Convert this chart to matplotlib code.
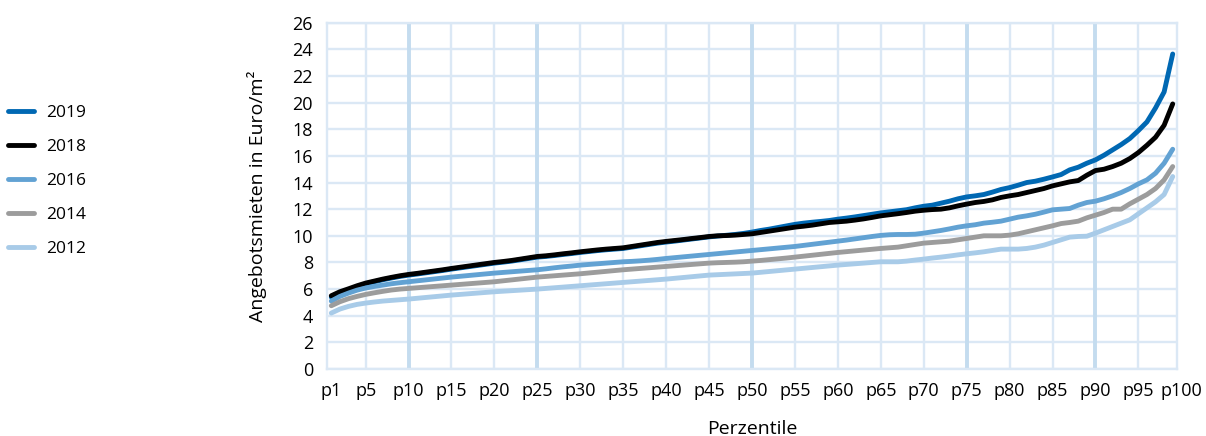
import matplotlib
matplotlib.use("Agg")
import matplotlib.pyplot as plt
from matplotlib.lines import Line2D

plt.rcParams['font.family'] = ['Open Sans', 'DejaVu Sans']

# Percentiles p1 .. p99 of asking rents (Euro/m²)
percentiles = list(range(1, 100))

rent_2019 = [
    5.40, 5.72, 5.95, 6.18, 6.40, 6.55, 6.70, 6.83, 6.95, 7.05,
    7.13, 7.22, 7.31, 7.40, 7.50, 7.59, 7.68, 7.77, 7.86, 7.95,
    8.02, 8.10, 8.20, 8.30, 8.40, 8.45, 8.52, 8.60, 8.67, 8.75,
    8.82, 8.89, 8.95, 9.00, 9.05, 9.15, 9.25, 9.35, 9.45, 9.53,
    9.60, 9.68, 9.76, 9.84, 9.92, 9.98, 10.04, 10.10, 10.18, 10.28,
    10.40, 10.50, 10.62, 10.74, 10.86, 10.95, 11.02, 11.08, 11.15, 11.25,
    11.33, 11.42, 11.52, 11.62, 11.72, 11.80, 11.88, 11.96, 12.10, 12.22,
    12.30, 12.45, 12.60, 12.78, 12.92, 13.00, 13.10, 13.28, 13.48, 13.62,
    13.80, 14.00, 14.10, 14.25, 14.42, 14.60, 14.95, 15.15, 15.45, 15.70,
    16.05, 16.45, 16.85, 17.30, 17.90, 18.55, 19.60, 20.80, 23.65,
]

rent_2018 = [
    5.50, 5.80, 6.02, 6.25, 6.45, 6.60, 6.75, 6.88, 7.00, 7.10,
    7.18, 7.27, 7.36, 7.45, 7.55, 7.64, 7.73, 7.82, 7.91, 8.00,
    8.07, 8.15, 8.25, 8.35, 8.45, 8.50, 8.57, 8.65, 8.72, 8.80,
    8.87, 8.94, 9.00, 9.05, 9.10, 9.20, 9.30, 9.40, 9.50, 9.58,
    9.65, 9.72, 9.80, 9.87, 9.95, 10.00, 10.02, 10.05, 10.10, 10.15,
    10.25, 10.35, 10.45, 10.55, 10.65, 10.72, 10.80, 10.90, 11.00, 11.05,
    11.10, 11.18, 11.27, 11.38, 11.50, 11.58, 11.66, 11.75, 11.85, 11.92,
    11.97, 12.00, 12.10, 12.25, 12.38, 12.50, 12.58, 12.70, 12.88, 13.00,
    13.10, 13.25, 13.40, 13.55, 13.75, 13.90, 14.05, 14.15, 14.55, 14.90,
    15.00, 15.20, 15.45, 15.80, 16.25, 16.80, 17.40, 18.30, 19.90,
]

rent_2016 = [
    5.10, 5.45, 5.70, 5.92, 6.08, 6.20, 6.30, 6.40, 6.48, 6.55,
    6.62, 6.69, 6.76, 6.83, 6.90, 6.96, 7.02, 7.08, 7.14, 7.20,
    7.25, 7.30, 7.35, 7.40, 7.45, 7.52, 7.60, 7.67, 7.73, 7.80,
    7.85, 7.90, 7.95, 8.00, 8.05, 8.08, 8.12, 8.17, 8.23, 8.30,
    8.36, 8.42, 8.48, 8.54, 8.60, 8.66, 8.72, 8.78, 8.84, 8.90,
    8.96, 9.02, 9.08, 9.14, 9.20, 9.28, 9.36, 9.44, 9.52, 9.60,
    9.68, 9.77, 9.86, 9.95, 10.03, 10.08, 10.10, 10.10, 10.12, 10.20,
    10.30, 10.40, 10.52, 10.65, 10.75, 10.83, 10.95, 11.02, 11.10, 11.25,
    11.40, 11.50, 11.62, 11.78, 11.95, 12.00, 12.05, 12.30, 12.50, 12.60,
    12.78, 13.00, 13.25, 13.55, 13.90, 14.20, 14.70, 15.45, 16.50,
]

rent_2014 = [
    4.75, 5.05, 5.28, 5.45, 5.60, 5.72, 5.83, 5.93, 6.00, 6.05,
    6.10, 6.15, 6.20, 6.25, 6.30, 6.35, 6.40, 6.45, 6.50, 6.55,
    6.62, 6.69, 6.76, 6.83, 6.90, 6.95, 7.00, 7.05, 7.10, 7.15,
    7.21, 7.27, 7.33, 7.39, 7.45, 7.50, 7.55, 7.60, 7.65, 7.70,
    7.75, 7.80, 7.85, 7.90, 7.95, 7.98, 8.00, 8.02, 8.05, 8.10,
    8.15, 8.21, 8.27, 8.33, 8.40, 8.47, 8.54, 8.61, 8.68, 8.75,
    8.81, 8.87, 8.93, 8.99, 9.05, 9.10, 9.15, 9.25, 9.35, 9.45,
    9.50, 9.55, 9.60, 9.70, 9.80, 9.90, 10.00, 10.00, 10.00, 10.05,
    10.15, 10.30, 10.45, 10.60, 10.75, 10.92, 11.00, 11.10, 11.35, 11.55,
    11.75, 12.00, 12.00, 12.40, 12.75, 13.10, 13.55, 14.20, 15.20,
]

rent_2012 = [
    4.20, 4.50, 4.70, 4.85, 4.95, 5.03, 5.10, 5.15, 5.20, 5.25,
    5.31, 5.37, 5.43, 5.49, 5.55, 5.60, 5.65, 5.70, 5.75, 5.80,
    5.84, 5.88, 5.92, 5.96, 6.00, 6.05, 6.10, 6.15, 6.20, 6.25,
    6.30, 6.35, 6.40, 6.45, 6.50, 6.55, 6.60, 6.65, 6.70, 6.75,
    6.81, 6.87, 6.93, 6.99, 7.05, 7.08, 7.11, 7.14, 7.17, 7.20,
    7.26, 7.32, 7.38, 7.44, 7.50, 7.56, 7.62, 7.68, 7.74, 7.80,
    7.85, 7.90, 7.95, 8.00, 8.05, 8.05, 8.05, 8.10, 8.18, 8.25,
    8.33, 8.40, 8.48, 8.57, 8.65, 8.72, 8.80, 8.90, 9.00, 9.00,
    9.00, 9.05, 9.15, 9.30, 9.50, 9.70, 9.90, 9.95, 9.97, 10.20,
    10.45, 10.70, 10.95, 11.20, 11.65, 12.10, 12.55, 13.10, 14.45,
]

years = ["2019", "2018", "2016", "2014", "2012"]
series = [rent_2019, rent_2018, rent_2016, rent_2014, rent_2012]
colors = ["#0068b3", "#000000", "#62a2d3", "#9c9c9c", "#a8cbe8"]

tick_positions = [1, 5, 10, 15, 20, 25, 30, 35, 40, 45, 50,
                  55, 60, 65, 70, 75, 80, 85, 90, 95]
tick_labels = ["p%d" % t for t in tick_positions]
major_grid = [10, 25, 50, 75, 90]
y_ticks = list(range(0, 27, 2))

W, H = 1206, 436
fig = plt.figure(figsize=(W / 100, H / 100), dpi=100)
ax = fig.add_axes([327 / W, (H - 369) / H, (1177 - 327) / W, (369 - 22.7) / H])

thin_col = "#dbe8f5"
thick_col = "#c4dcef"

# grid
for y in y_ticks:
    ax.axhline(y, color=thin_col, lw=1.7, zorder=1)
for x in tick_positions[1:]:
    if x in major_grid:
        ax.axvline(x, color=thick_col, lw=2.8, zorder=1)
    else:
        ax.axvline(x, color=thin_col, lw=1.7, zorder=1)

for yr, vals, c in zip(years, series, colors):
    ax.plot(percentiles, vals, color=c, lw=3.5, solid_capstyle='round',
            solid_joinstyle='round', zorder=3, label=yr)

ax.set_xlim(0.5, 99.5)
ax.set_ylim(0, 26)
ax.set_xticks(tick_positions)
ax.set_xticklabels(tick_labels)
ax.set_yticks(y_ticks)
ax.tick_params(axis='both', length=0, labelsize=13, colors="#000000")
ax.tick_params(axis='x', pad=9)
ax.tick_params(axis='y', pad=10)
for s in ax.spines.values():
    s.set_color(thin_col)
    s.set_linewidth(1.7)

ax.annotate("p100", xy=(100, 0), xycoords=('data', 'axes fraction'),
            xytext=(0, -9), textcoords='offset points', ha='center', va='top',
            fontsize=13, annotation_clip=False)

ax.set_ylabel("Angebotsmieten in Euro/m²", fontsize=14, labelpad=18)
ax.set_xlabel("Perzentile", fontsize=14, labelpad=15)

handles = [Line2D([0], [0], color=c, lw=3.5, solid_capstyle='round') for c in colors]
fig.legend(handles, years, loc='upper left', bbox_to_anchor=(8 / W, 1 - 105 / H),
           frameon=False, fontsize=12.5, handlelength=1.5, handletextpad=0.7,
           labelspacing=1.02, borderpad=0, borderaxespad=0)

fig.savefig("out.png", dpi=100)
